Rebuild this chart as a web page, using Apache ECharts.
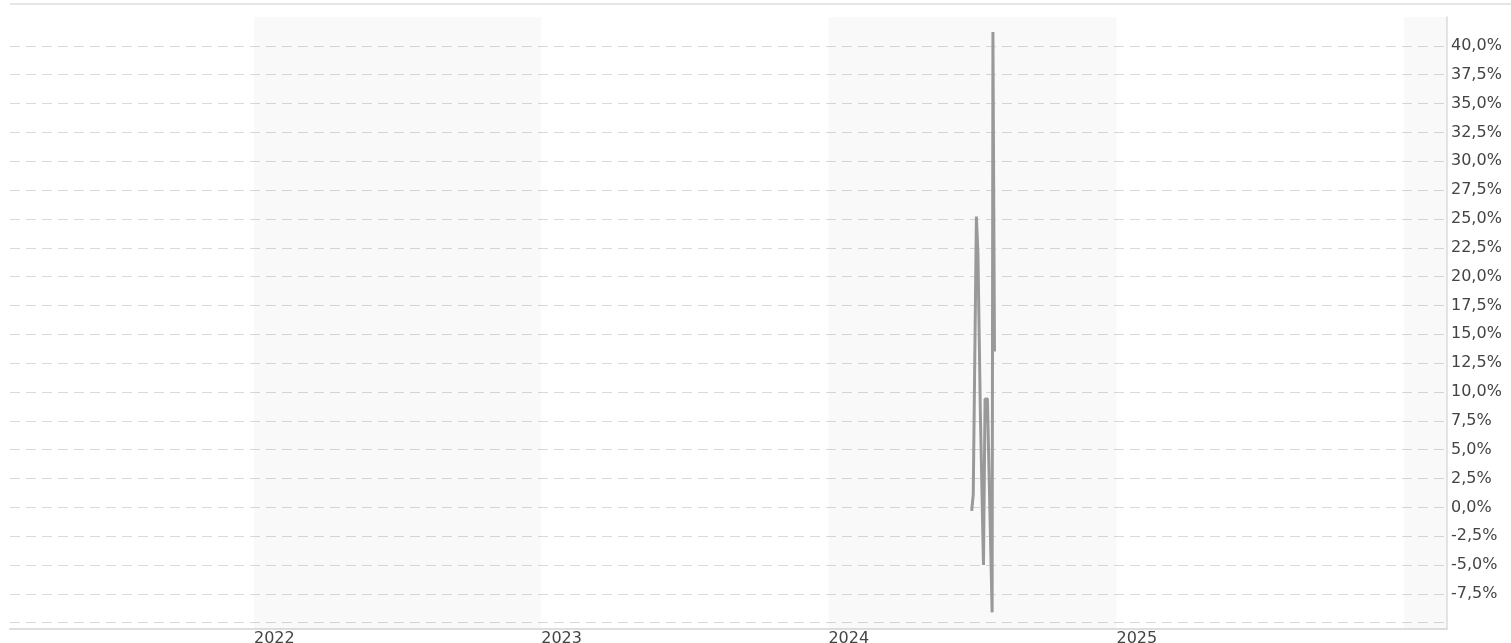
<!DOCTYPE html>
<html>
<head>
<meta charset="utf-8">
<style>
  html, body { margin: 0; padding: 0; background: #fff; }
  #chart { width: 1511px; height: 643px; }
</style>
<script src="https://cdn.jsdelivr.net/npm/echarts@6/dist/echarts.min.js"></script>
</head>
<body>
<div id="chart"></div>
<script>
// daily points of the series (percent)
const dates = ['2024-07-01', '2024-07-03', '2024-07-07', '2024-07-09', '2024-07-12', '2024-07-16',
  '2024-07-18', '2024-07-21', '2024-07-27', '2024-07-28', '2024-07-30'];
const values = [-0.3, 1.1, 25.2, 21.9, 8.3, -5.0, 9.4, 9.4, -9.1, 41.2, 13.5];

// axis setup
const yearLabels = ['2022', '2023', '2024', '2025'];
const shadedYears = [
  ['2022-01-01', '2023-01-01'],
  ['2024-01-01', '2025-01-01'],
  ['2026-01-01', '2026-02-25']
];
const yGridValues = [-10, -7.5, -5, -2.5, 0, 2.5, 5, 7.5, 10, 12.5, 15, 17.5, 20, 22.5, 25, 27.5, 30, 32.5, 35, 37.5, 40];
const yLabelValues = [-7.5, -5, -2.5, 0, 2.5, 5, 7.5, 10, 12.5, 15, 17.5, 20, 22.5, 25, 27.5, 30, 32.5, 35, 37.5, 40];

const chart = echarts.init(document.getElementById('chart'));

const fmtPct = (v) => v.toFixed(1).replace('.', ',') + '%';

chart.setOption({
  animation: false,
  textStyle: { fontFamily: 'DejaVu Sans' },
  grid: { left: 10, right: 64, top: 17, bottom: 14.5, outerBoundsMode: 'none', containLabel: false },
  graphic: [{
    type: 'line',
    shape: { x1: 10, y1: 4, x2: 1511, y2: 4 },
    style: { stroke: '#e6e6e6', lineWidth: 2 },
    silent: true
  }],
  xAxis: {
    type: 'time',
    min: '2021-02-25',
    max: '2026-02-25',
    axisLine: { show: true, onZero: false, lineStyle: { color: '#dedede', width: 2 } },
    axisTick: { show: false },
    splitLine: { show: false },
    axisLabel: {
      margin: 2,
      align: 'left',
      color: '#444',
      fontSize: 16,
      fontFamily: 'DejaVu Sans',
      showMinLabel: false,
      showMaxLabel: false,
      formatter: (val) => {
        const d = new Date(val);
        const y = String(d.getFullYear());
        if (d.getMonth() === 0 && d.getDate() === 1 && yearLabels.includes(y)) return y;
        return '';
      }
    }
  },
  yAxis: {
    type: 'value',
    position: 'right',
    min: -10.5,
    max: 42.5,
    axisLine: { show: true, lineStyle: { color: '#dddddd', width: 1.5 } },
    axisTick: { show: false, customValues: yGridValues },
    splitLine: { show: true, lineStyle: { color: '#dadada', type: [10, 6], width: 1 } },
    axisLabel: {
      customValues: yLabelValues,
      margin: 4,
      color: '#444',
      fontSize: 16,
      fontFamily: 'DejaVu Sans',
      formatter: fmtPct
    }
  },
  series: [{
    type: 'line',
    data: dates.map((d, i) => [d, values[i]]),
    showSymbol: false,
    lineStyle: { color: '#999999', width: 3 },
    markArea: {
      silent: true,
      itemStyle: { color: 'rgba(0,0,0,0.022)' },
      data: shadedYears.map(([a, b]) => [{ xAxis: a }, { xAxis: b }])
    }
  }]
});
</script>
</body>
</html>
